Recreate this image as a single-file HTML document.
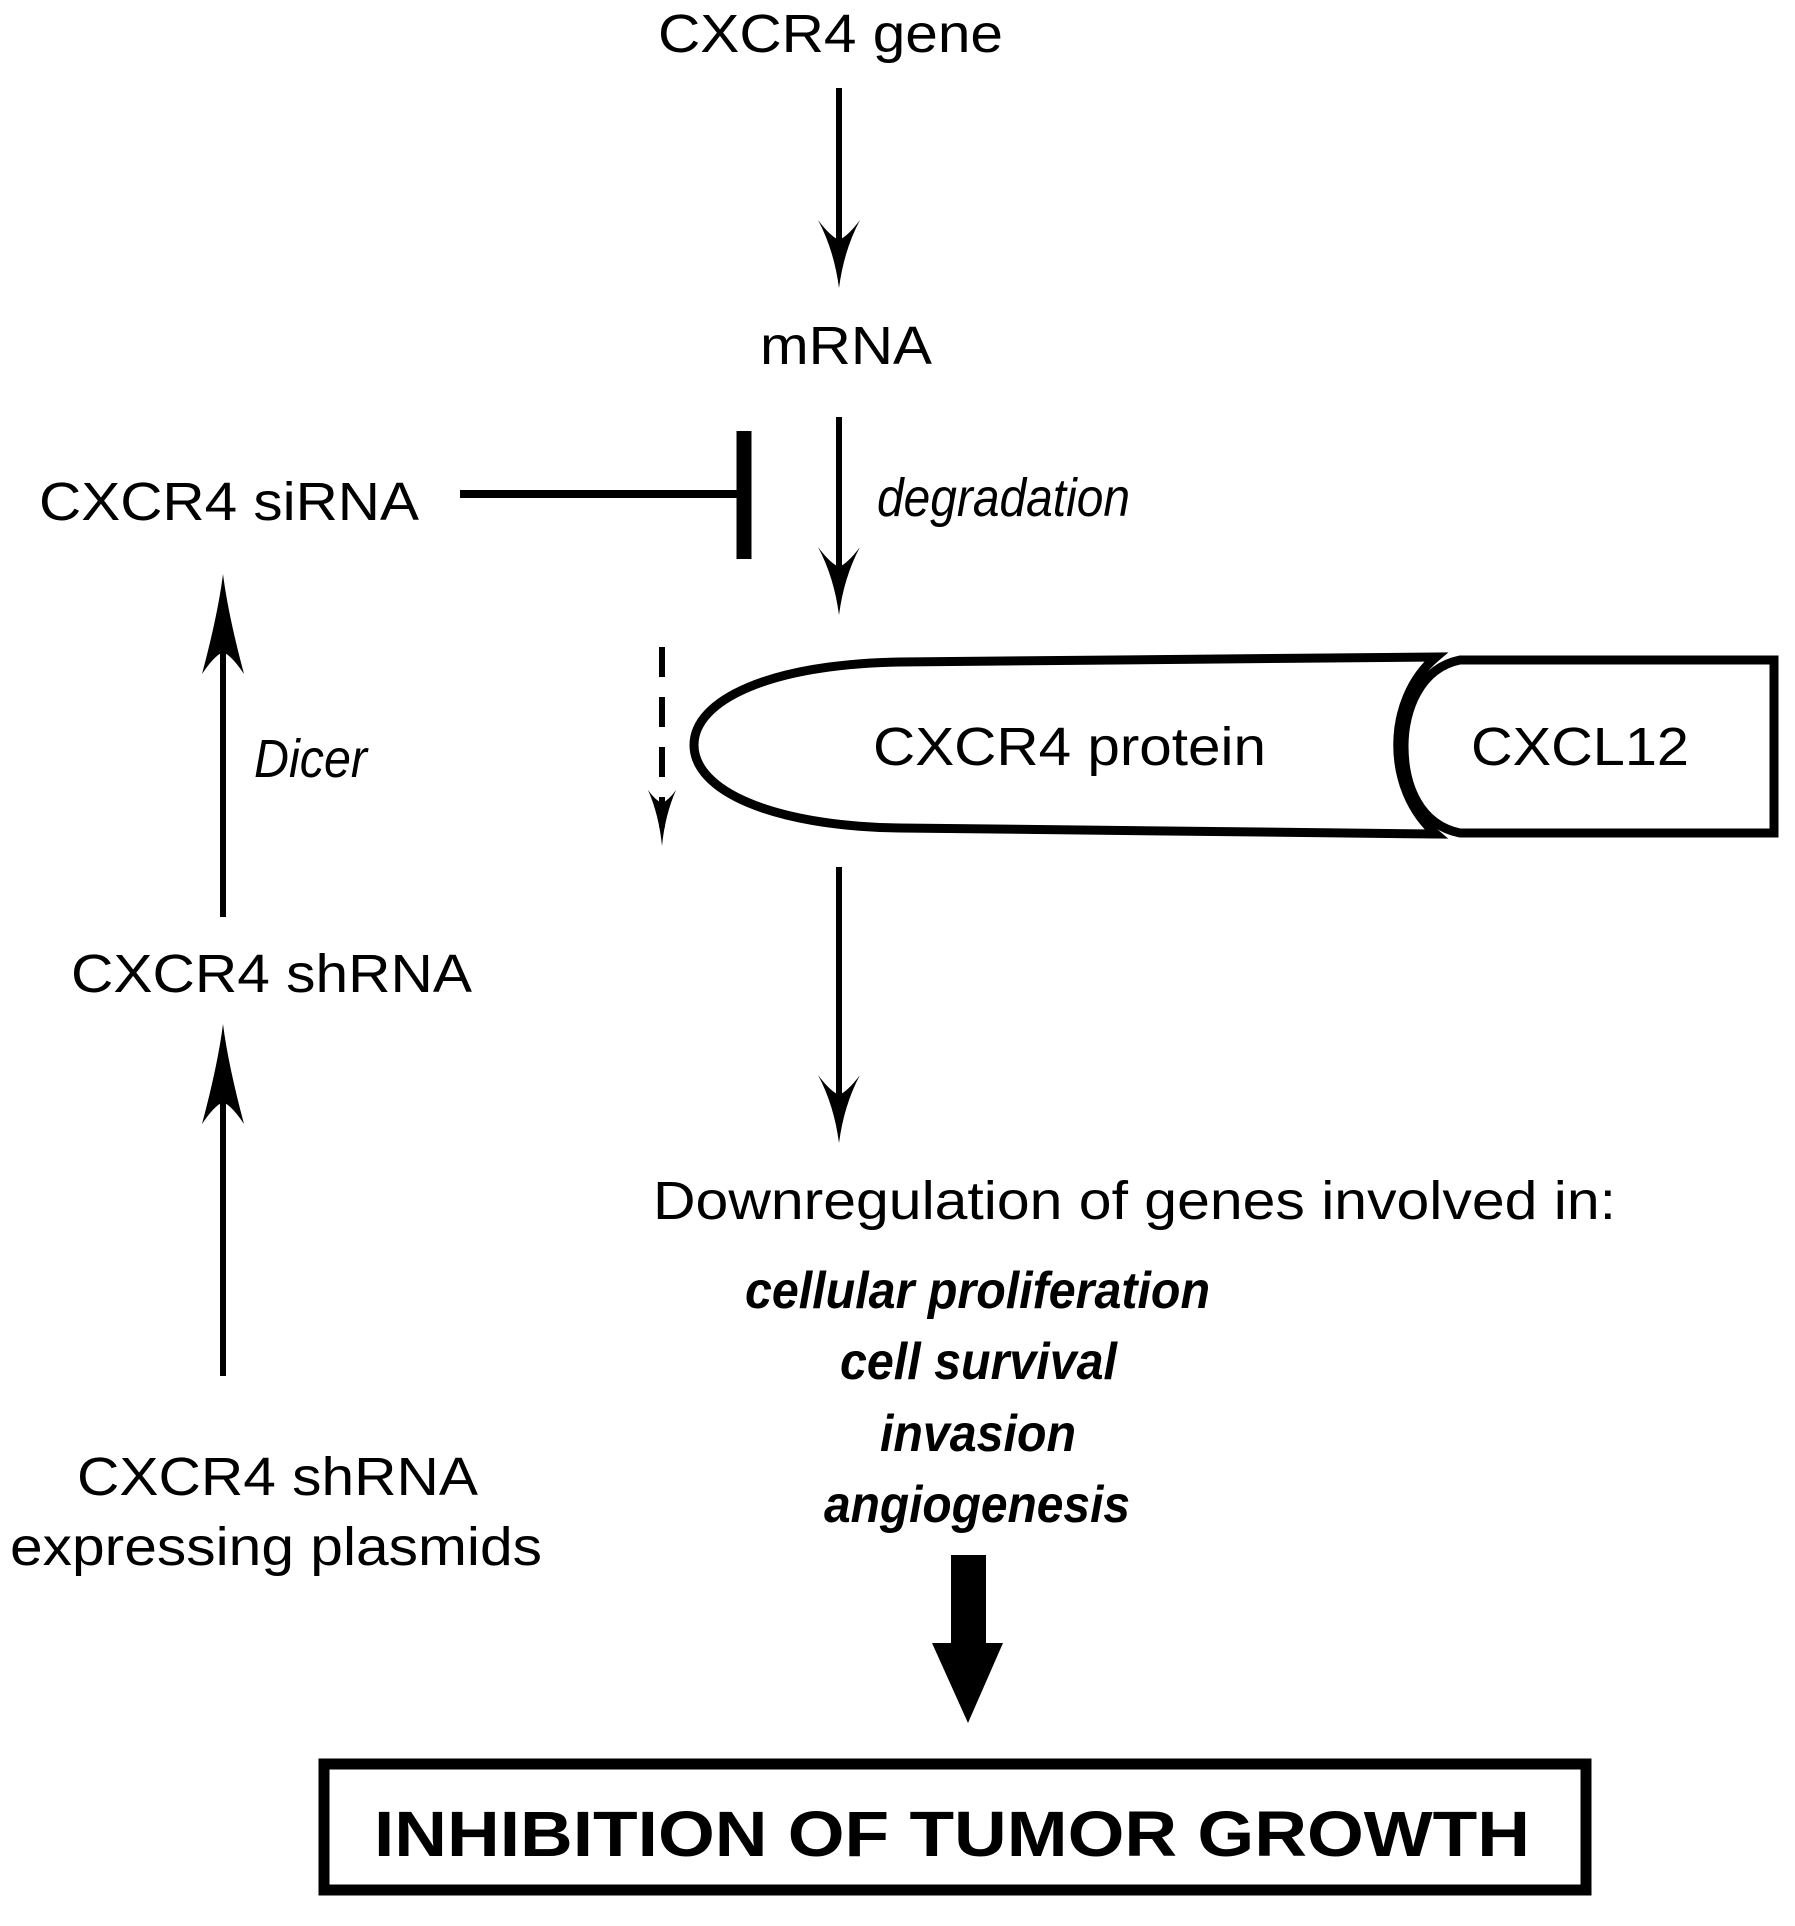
<!DOCTYPE html>
<html><head><style>html,body{margin:0;padding:0;background:#fff}svg{display:block}</style></head>
<body>
<svg width="1795" height="1926" viewBox="0 0 1795 1926" xmlns="http://www.w3.org/2000/svg" font-family="Liberation Sans, sans-serif">
<g fill="#000" font-size="54">
<text x="658" y="52" textLength="345" lengthAdjust="spacingAndGlyphs">CXCR4 gene</text>
<text x="760" y="364" textLength="172" lengthAdjust="spacingAndGlyphs">mRNA</text>
<text x="39" y="520" textLength="380" lengthAdjust="spacingAndGlyphs">CXCR4 siRNA</text>
<text x="873" y="765" textLength="393" lengthAdjust="spacingAndGlyphs">CXCR4 protein</text>
<text x="1471" y="765" textLength="218" lengthAdjust="spacingAndGlyphs">CXCL12</text>
<text x="71" y="992" textLength="401" lengthAdjust="spacingAndGlyphs">CXCR4 shRNA</text>
<text x="77" y="1495" textLength="401" lengthAdjust="spacingAndGlyphs">CXCR4 shRNA</text>
<text x="10" y="1565" textLength="532" lengthAdjust="spacingAndGlyphs">expressing plasmids</text>
<text x="653" y="1219" textLength="963" lengthAdjust="spacingAndGlyphs">Downregulation of genes involved in:</text>
<g font-style="italic">
<text x="877" y="516" textLength="253" lengthAdjust="spacingAndGlyphs">degradation</text>
<text x="254" y="777" textLength="113" lengthAdjust="spacingAndGlyphs">Dicer</text>
</g>
<g font-style="italic" font-weight="bold" font-size="52">
<text x="745" y="1308" textLength="465" lengthAdjust="spacingAndGlyphs">cellular proliferation</text>
<text x="840" y="1379" textLength="277" lengthAdjust="spacingAndGlyphs">cell survival</text>
<text x="880" y="1451" textLength="196" lengthAdjust="spacingAndGlyphs">invasion</text>
<text x="824" y="1522" textLength="306" lengthAdjust="spacingAndGlyphs">angiogenesis</text>
</g>
<text x="374" y="1856" font-weight="bold" font-size="64" textLength="1156" lengthAdjust="spacingAndGlyphs">INHIBITION OF TUMOR GROWTH</text>
</g>
<g stroke="#000" stroke-width="6" fill="none">
<line x1="839" y1="88" x2="839" y2="260"/>
<line x1="839" y1="417" x2="839" y2="590"/>
<line x1="839" y1="867" x2="839" y2="1115"/>
<line x1="223" y1="600" x2="223" y2="917"/>
<line x1="223" y1="1050" x2="223" y2="1376"/>
<line x1="662" y1="647" x2="662" y2="835" stroke-dasharray="30,20"/>
</g>
<g fill="#000">
<path d="M818,220 Q834,250 839,288 Q844,250 860,220 Q848,236 839,240 Q830,236 818,220Z"/>
<path d="M818,547 Q834,577 839,615 Q844,577 860,547 Q848,563 839,567 Q830,563 818,547Z"/>
<path d="M818,1075 Q834,1105 839,1143 Q844,1105 860,1075 Q848,1091 839,1095 Q830,1091 818,1075Z"/>
<path d="M648,790 Q659,815 662,846 Q665,815 676,790 Q669,800 662,803 Q655,800 648,790Z"/>
<path d="M202,674 Q218,614 223,574 Q228,614 244,674 Q232,656 223,652 Q214,656 202,674Z"/>
<path d="M202,1124 Q218,1064 223,1024 Q228,1064 244,1124 Q232,1106 223,1102 Q214,1106 202,1124Z"/>
<path d="M951,1555 H986 V1643 H1003 L968,1723 L932,1643 H951Z"/>
</g>
<line x1="460" y1="494" x2="744" y2="494" stroke="#000" stroke-width="8"/>
<line x1="744" y1="431" x2="744" y2="559" stroke="#000" stroke-width="15"/>
<path d="M1436,657 L900,662 C770,664 694,700 694,745 C694,790 770,826 900,828 L1436,834 C1385,790 1385,700 1436,657Z" fill="none" stroke="#000" stroke-width="9" stroke-linejoin="miter"/>
<path d="M1774,660 L1460,660 C1420,668 1404,710 1404,746 C1404,786 1420,825 1460,833 L1774,833Z" fill="none" stroke="#000" stroke-width="9"/>
<rect x="324" y="1764" width="1262" height="126" fill="none" stroke="#000" stroke-width="11"/>
</svg>
</body></html>
